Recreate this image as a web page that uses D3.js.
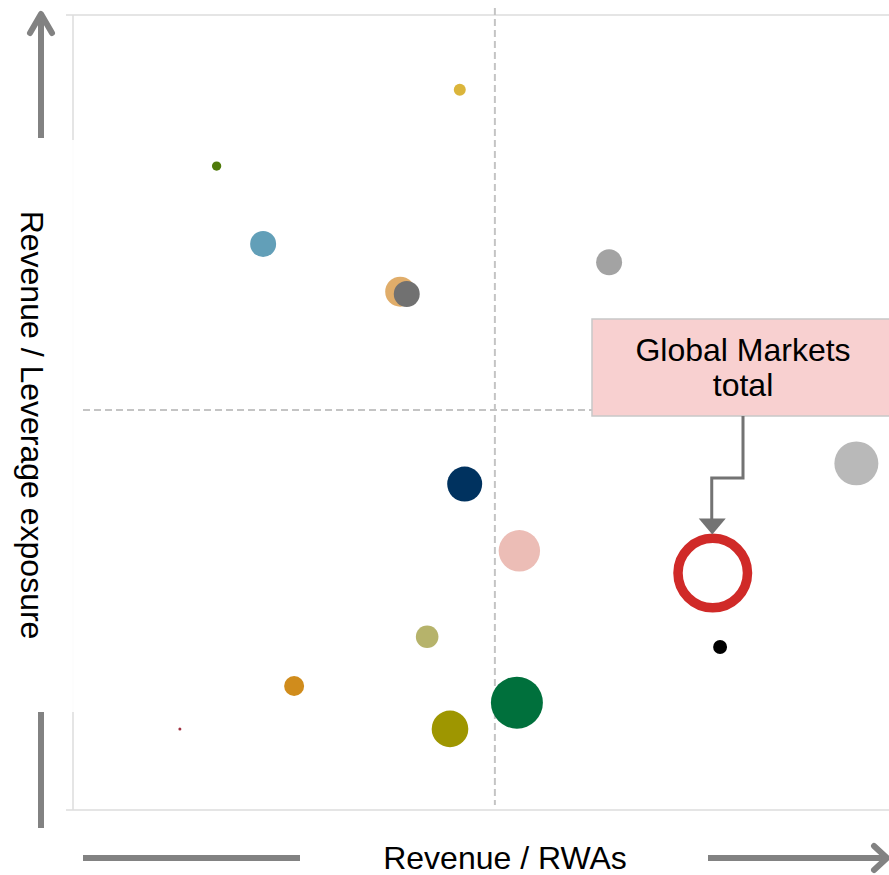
<!DOCTYPE html>
<html>
<head>
<meta charset="utf-8">
<script src="https://cdn.jsdelivr.net/npm/d3@7"></script>
<style>
  body { margin: 0; background: #fff; }
  svg { display: block; font-family: "Liberation Sans", Arial, sans-serif; }
</style>
</head>
<body>
<div id="chart"></div>
<script>
// Bubble positions (arbitrary index units, 0-10 on each axis) and bubble sizes
const xValues = [4.74, 1.76, 2.33, 4.01, 4.09, 6.57, 9.60, 4.80, 5.47, 7.84, 7.93, 4.34, 2.71, 5.44, 4.62, 1.31];
const yValues = [9.06, 8.10, 7.12, 6.52, 6.49, 6.89, 4.36, 4.10, 3.26, 2.98, 2.05, 2.18, 1.56, 1.35, 1.02, 1.02];
const sizeValues = [2.3, 1.4, 10.8, 14.4, 10.8, 10.8, 31, 19.6, 27.5, 100, 3.1, 8.2, 6.4, 43.3, 21.5, 0.14];
const bubbleColors = ["#dbb53b", "#4f7a0a", "#629fb8", "#e0ad6a", "#717171", "#a3a3a3", "#b9b9b9", "#00325f",
  "#ecbdb6", "#d02a28", "#000000", "#b6b36b", "#d08c1c", "#00703c", "#9e9600", "#a03040"];
const highlightIndex = 9; // Global Markets total, drawn as a ring
const xMid = 5.17;
const yMid = 5.03;
const xLabel = "Revenue / RWAs";
const yLabel = "Revenue / Leverage exposure";
const calloutLines = ["Global Markets", "total"];

const width = 889, height = 875;
const plot = { left: 73, right: 889, top: 15, bottom: 810 };

const svg = d3.select("#chart").append("svg")
  .attr("width", width)
  .attr("height", height);

const x = d3.scaleLinear().domain([0, 10]).range([plot.left, plot.right]);
const y = d3.scaleLinear().domain([0, 10]).range([plot.bottom, plot.top]);
const r = d3.scaleSqrt().domain([0, 100]).range([0, 39.5]);

const points = xValues.map((v, i) => ({ x: v, y: yValues[i], size: sizeValues[i], color: bubbleColors[i], i }));

// plot frame
svg.append("line").attr("x1", 66).attr("x2", width).attr("y1", plot.top).attr("y2", plot.top)
  .attr("stroke", "#dcdcdc").attr("stroke-width", 1.5);
svg.append("line").attr("x1", 66).attr("x2", width).attr("y1", plot.bottom).attr("y2", plot.bottom)
  .attr("stroke", "#dcdcdc").attr("stroke-width", 1.5);
svg.append("line").attr("x1", plot.left).attr("x2", plot.left).attr("y1", plot.top).attr("y2", plot.bottom)
  .attr("stroke", "#dcdcdc").attr("stroke-width", 1.5);

// quadrant dividers
svg.append("line")
  .attr("x1", x(xMid)).attr("x2", x(xMid)).attr("y1", 8).attr("y2", 805)
  .attr("stroke", "#c4c4c4").attr("stroke-width", 2).attr("stroke-dasharray", "7,4");
svg.append("line")
  .attr("x1", 83).attr("x2", 600).attr("y1", y(yMid)).attr("y2", y(yMid))
  .attr("stroke", "#c4c4c4").attr("stroke-width", 2).attr("stroke-dasharray", "7,4");

// bubbles
svg.selectAll(".bubble")
  .data(points.filter((d) => d.i !== highlightIndex))
  .join("circle")
  .attr("class", "bubble")
  .attr("cx", (d) => x(d.x))
  .attr("cy", (d) => y(d.y))
  .attr("r", (d) => Math.max(1.5, r(d.size)))
  .attr("fill", (d) => d.color);

const hl = points[highlightIndex];
const ringWidth = 9.5;
svg.append("circle")
  .attr("cx", x(hl.x))
  .attr("cy", y(hl.y))
  .attr("r", r(hl.size) - ringWidth / 2)
  .attr("fill", "none")
  .attr("stroke", hl.color)
  .attr("stroke-width", ringWidth);

// callout box
const box = { x: 592, y: 319, w: 310, h: 97 };
svg.append("rect")
  .attr("x", box.x).attr("y", box.y).attr("width", box.w).attr("height", box.h)
  .attr("fill", "#f8d0d0").attr("stroke", "#c8c8c8").attr("stroke-width", 1.5);
svg.append("text")
  .attr("x", 743).attr("y", 361)
  .attr("text-anchor", "middle").attr("font-size", 32).attr("fill", "#000")
  .selectAll("tspan").data(calloutLines).join("tspan")
  .attr("x", 743).attr("dy", (d, i) => (i === 0 ? 0 : 35))
  .text((d) => d);

// connector to the ring
const ringTop = y(hl.y) - r(hl.size);
svg.append("path")
  .attr("d", `M743,${box.y + box.h} V478 H${x(hl.x) - 1} V${ringTop - 14}`)
  .attr("fill", "none").attr("stroke", "#737373").attr("stroke-width", 3);
svg.append("path")
  .attr("d", `M${x(hl.x) - 14},${ringTop - 15} L${x(hl.x) + 13},${ringTop - 15} L${x(hl.x) - 0.5},${ringTop + 1} Z`)
  .attr("fill", "#737373");

// y axis label with white backing
svg.append("rect")
  .attr("x", 8).attr("y", 140).attr("width", 66).attr("height", 572)
  .attr("fill", "#fff").attr("opacity", 0.9);
svg.append("text")
  .attr("transform", "translate(21,425) rotate(90)")
  .attr("text-anchor", "middle")
  .attr("font-size", 32)
  .attr("fill", "#000")
  .text(yLabel);

// x axis label
svg.append("text")
  .attr("x", 505).attr("y", 869)
  .attr("text-anchor", "middle")
  .attr("font-size", 32)
  .attr("fill", "#000")
  .text(xLabel);

// direction arrows
const arrowGrey = "#828282";
svg.append("line").attr("x1", 41).attr("x2", 41).attr("y1", 138).attr("y2", 15)
  .attr("stroke", arrowGrey).attr("stroke-width", 6);
svg.append("path").attr("d", "M30,33 L41,14 L52,33")
  .attr("fill", "none").attr("stroke", arrowGrey).attr("stroke-width", 6)
  .attr("stroke-linecap", "round").attr("stroke-linejoin", "round");
svg.append("line").attr("x1", 41).attr("x2", 41).attr("y1", 712).attr("y2", 828)
  .attr("stroke", arrowGrey).attr("stroke-width", 6);
svg.append("line").attr("x1", 83).attr("x2", 300).attr("y1", 858).attr("y2", 858)
  .attr("stroke", arrowGrey).attr("stroke-width", 6);
svg.append("line").attr("x1", 708).attr("x2", 886).attr("y1", 858).attr("y2", 858)
  .attr("stroke", arrowGrey).attr("stroke-width", 6);
svg.append("path").attr("d", "M874,846 L887,858 L874,870")
  .attr("fill", "none").attr("stroke", arrowGrey).attr("stroke-width", 6)
  .attr("stroke-linecap", "round").attr("stroke-linejoin", "round");
</script>
</body>
</html>
